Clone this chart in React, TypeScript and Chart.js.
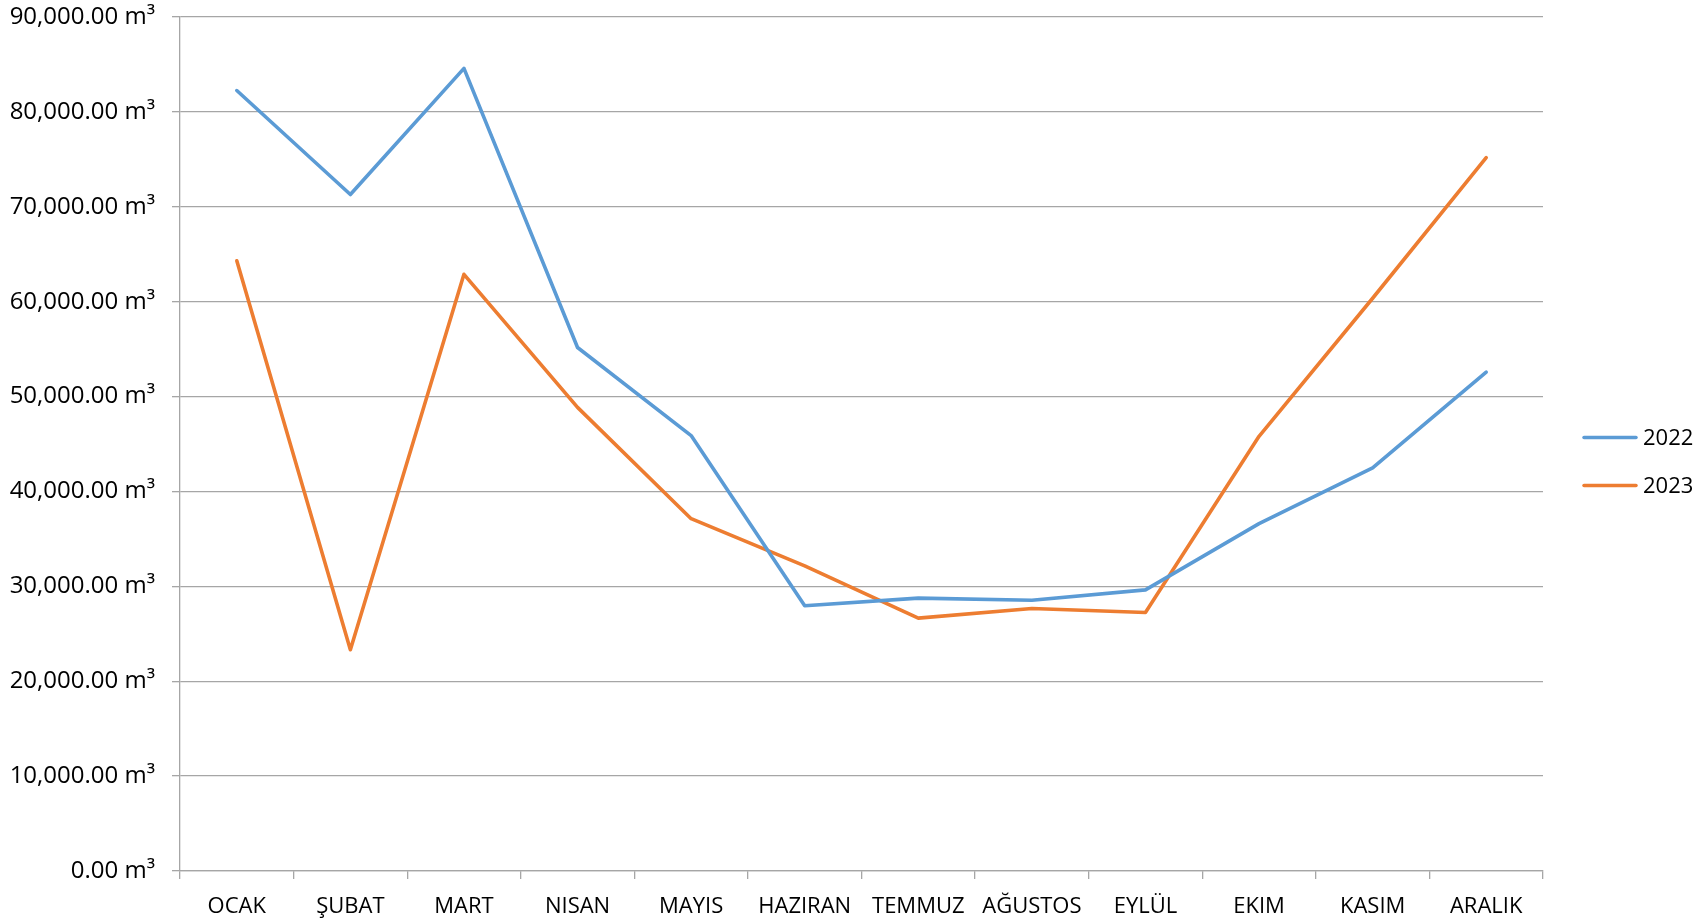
import React, { useEffect, useRef } from "react";
import { Chart, registerables } from "chart.js";

Chart.register(...registerables);

const months = ["OCAK", "ŞUBAT", "MART", "NISAN", "MAYIS", "HAZIRAN", "TEMMUZ", "AĞUSTOS", "EYLÜL", "EKIM", "KASIM", "ARALIK"];
const series2022 = [82250, 71290, 84590, 55170, 45890, 27950, 28760, 28540, 29630, 36610, 42490, 52580];
const series2023 = [64310, 23320, 62880, 48860, 37130, 32150, 26650, 27670, 27250, 45810, 60360, 75180];
const seriesLabels = ["2022", "2023"];
const seriesColors = ["#5B9BD5", "#ED7D31"];
const yMin = 0;
const yMax = 90000;
const yStep = 10000;

const FONT = "'Open Sans', 'Noto Sans', sans-serif";
const GRID = "#a6a6a6";

const legendPlugin = {
  id: "sideLegend",
  afterDraw(chart: any) {
    const ctx = chart.ctx;
    const ds = chart.data.datasets;
    const cy = chart.height / 2;
    const gap = 48;
    ctx.save();
    ds.forEach((d: any, i: number) => {
      const y = cy + (i - (ds.length - 1) / 2) * gap;
      ctx.strokeStyle = d.borderColor;
      ctx.lineWidth = 3.5;
      ctx.lineCap = "round";
      ctx.beginPath();
      ctx.moveTo(1584, y);
      ctx.lineTo(1636, y);
      ctx.stroke();
      ctx.fillStyle = "#000";
      ctx.font = `22px ${FONT}`;
      ctx.textBaseline = "middle";
      ctx.textAlign = "left";
      ctx.fillText(d.label, 1643, y + 1);
    });
    ctx.restore();
  },
};

export default function App() {
  const ref = useRef<HTMLCanvasElement>(null);
  useEffect(() => {
    if (!ref.current) return;
    const chart = new Chart(ref.current, {
      type: "line",
      data: {
        labels: months,
        datasets: [series2022, series2023].map((vals, i) => ({
          label: seriesLabels[i],
          data: vals,
          borderColor: seriesColors[i],
          backgroundColor: seriesColors[i],
          borderWidth: 3.6,
          pointRadius: 0,
          tension: 0,
          borderJoinStyle: "round" as const,
          borderCapStyle: "round" as const,
        })),
      },
      options: {
        responsive: false,
        animation: false,
        layout: { padding: { left: 0, top: 17, right: 158, bottom: 0 } },
        plugins: { legend: { display: false }, tooltip: { enabled: false } },
        scales: {
          x: {
            type: "category",
            offset: true,
            grid: { offset: true, drawOnChartArea: false, drawTicks: true, tickLength: 8, color: GRID, lineWidth: 1.3 },
            border: { color: GRID, width: 1.3 },
            ticks: { color: "#000", font: { family: FONT, size: 22 }, padding: 15, autoSkip: false, maxRotation: 0 },
            afterFit: (s: any) => { s.height = 52; },
          },
          y: {
            min: yMin,
            max: yMax,
            grid: { color: GRID, lineWidth: 1.3, tickLength: 8 },
            border: { color: GRID, width: 1.3 },
            ticks: {
              stepSize: yStep,
              color: "#000",
              padding: 17,
              font: { family: FONT, size: 24 },
              callback: (v: any) =>
                Number(v).toLocaleString("en-US", { minimumFractionDigits: 2, maximumFractionDigits: 2 }) + " m³",
            },
            afterFit: (s: any) => { s.width = 180; s.paddingTop = 0; s.paddingBottom = 0; },
          },
        },
      },
      plugins: [legendPlugin],
    });
    return () => chart.destroy();
  }, []);
  return (
    <div style={{ position: "absolute", left: 0, top: 0, width: 1701, height: 923, background: "#fff" }}>
      <canvas ref={ref} width={1701} height={923} />
    </div>
  );
}
